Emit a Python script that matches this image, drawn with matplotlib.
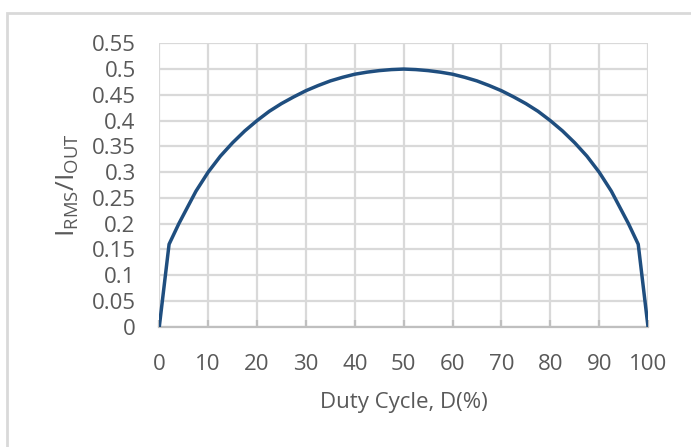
import matplotlib.pyplot as plt
from matplotlib.patches import Rectangle

# duty cycle (%) and normalised RMS current
duty = [0, 2, 3, 4, 5, 7.5, 10, 12.5, 15, 17.5, 20, 22.5, 25, 27.5, 30, 32.5, 35, 37.5,
        40, 42.5, 45, 47.5, 50, 52.5, 55, 57.5, 60, 62.5, 65, 67.5, 70, 72.5, 75, 77.5,
        80, 82.5, 85, 87.5, 90, 92.5, 95, 96, 97, 98, 100]
irms_ratio = [0, 0.16, 0.18, 0.20, 0.218, 0.263, 0.30, 0.331, 0.357, 0.38, 0.40, 0.418,
              0.433, 0.446, 0.458, 0.468, 0.477, 0.484, 0.49, 0.494, 0.497, 0.499, 0.50,
              0.499, 0.497, 0.494, 0.49, 0.484, 0.477, 0.468, 0.458, 0.446, 0.433, 0.418,
              0.40, 0.38, 0.357, 0.331, 0.30, 0.263, 0.218, 0.20, 0.18, 0.16, 0]

x_ticks = list(range(0, 101, 10))
y_ticks = [i * 0.05 for i in range(12)]
y_labels = ['0', '0.05', '0.1', '0.15', '0.2', '0.25', '0.3', '0.35', '0.4', '0.45', '0.5', '0.55']

plt.rcParams['font.family'] = ['Open Sans', 'DejaVu Sans']
text_color = '#595959'
grid_color = '#d9d9d9'

fig = plt.figure(figsize=(6.91, 4.47), dpi=100)
# outer chart frame (cut off at the right and bottom edges)
fig.patches.append(Rectangle((7 / 691, -0.2), 1.2, 1.2 - 13 / 447,
                             transform=fig.transFigure, fill=False,
                             edgecolor=grid_color, linewidth=2))

ax = fig.add_axes([159.3 / 691, 120.3 / 447, 488.7 / 691, 283.4 / 447])
ax.plot(duty, irms_ratio, color='#1f4e7f', linewidth=2.5,
        solid_capstyle='round', solid_joinstyle='round', zorder=3)

ax.set_xlim(0, 100)
ax.set_ylim(0, 0.55)
ax.set_xticks(x_ticks)
ax.set_yticks(y_ticks)
ax.set_yticklabels(y_labels)
ax.grid(True, color=grid_color, linewidth=1.6)
ax.set_axisbelow(True)

for side in ['top', 'right', 'left']:
    ax.spines[side].set_visible(False)
ax.spines['bottom'].set_color('#bfbfbf')
ax.spines['bottom'].set_linewidth(1.6)

ax.tick_params(axis='x', direction='in', length=5, width=1.6, color='#bfbfbf',
               labelsize=16, labelcolor=text_color, pad=20)
ax.tick_params(axis='y', length=0, labelsize=16, labelcolor=text_color, pad=17)

ax.set_xlabel('Duty Cycle, D(%)', fontsize=16, color=text_color, labelpad=12)
ax.set_ylabel(r'$\mathregular{I_{RMS}/I_{OUT}}$', fontsize=19, color=text_color, labelpad=8)

fig.savefig('out.png', dpi=100)
